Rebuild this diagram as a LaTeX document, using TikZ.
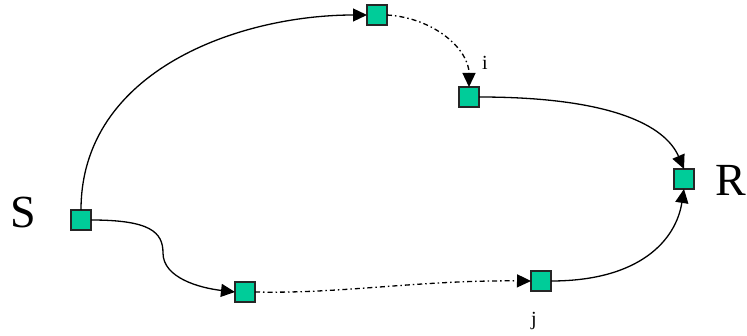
\documentclass[tikz,border=0pt]{standalone}
\usepackage{fontspec}
\setmainfont{Liberation Serif}
\usetikzlibrary{arrows.meta}
\definecolor{boxgreen}{RGB}{0,204,153}
\begin{document}
\begin{tikzpicture}[x=1pt,y=-1pt,
  sq/.style={draw=black!85,fill=boxgreen,line width=1.1pt,minimum size=20pt,inner sep=0pt,outer sep=0pt},
  conn/.style={line width=1.3pt,-{Triangle[length=14pt,width=13pt]}},
  dd/.style={dash pattern=on 5pt off 3pt on 1.5pt off 3pt},
  big/.style={font=\fontsize{46}{46}\selectfont,inner sep=0pt},
  small/.style={font=\fontsize{20}{20}\selectfont,inner sep=0pt}]
\useasboundingbox (0,0) rectangle (747,336);
\node[sq] (s) at (81,220) {};
\node[sq] (t) at (377,15) {};
\node[sq] (i) at (469,97) {};
\node[sq] (r) at (684,179) {};
\node[sq] (b) at (245,292) {};
\node[sq] (j) at (541,281) {};
\node[big] (S) at (23,212) {S};
\node[big] (R) at (731,180) {R};
\node[small] (il) at (485,63) {i};
\node[small] (jl) at (534,321) {j};
\draw[conn] (s.north) .. controls (81,70) and (240,15) .. (t.west);
\draw[conn,dd] (t.east) .. controls (435,18) and (469,50) .. (i.north);
\draw[conn] (i.east) .. controls (610,97) and (665,125) .. (r.north);
\draw[conn] (s.east) .. controls (150,220) and (163,232) .. (163,253)
  .. controls (163,278) and (200,288) .. (b.west);
\draw[conn,dd] (b.east) .. controls (340,294) and (420,280) .. (j.west);
\draw[conn] (j.east) .. controls (640,281) and (676,240) .. (r.south);
\end{tikzpicture}
\end{document}
